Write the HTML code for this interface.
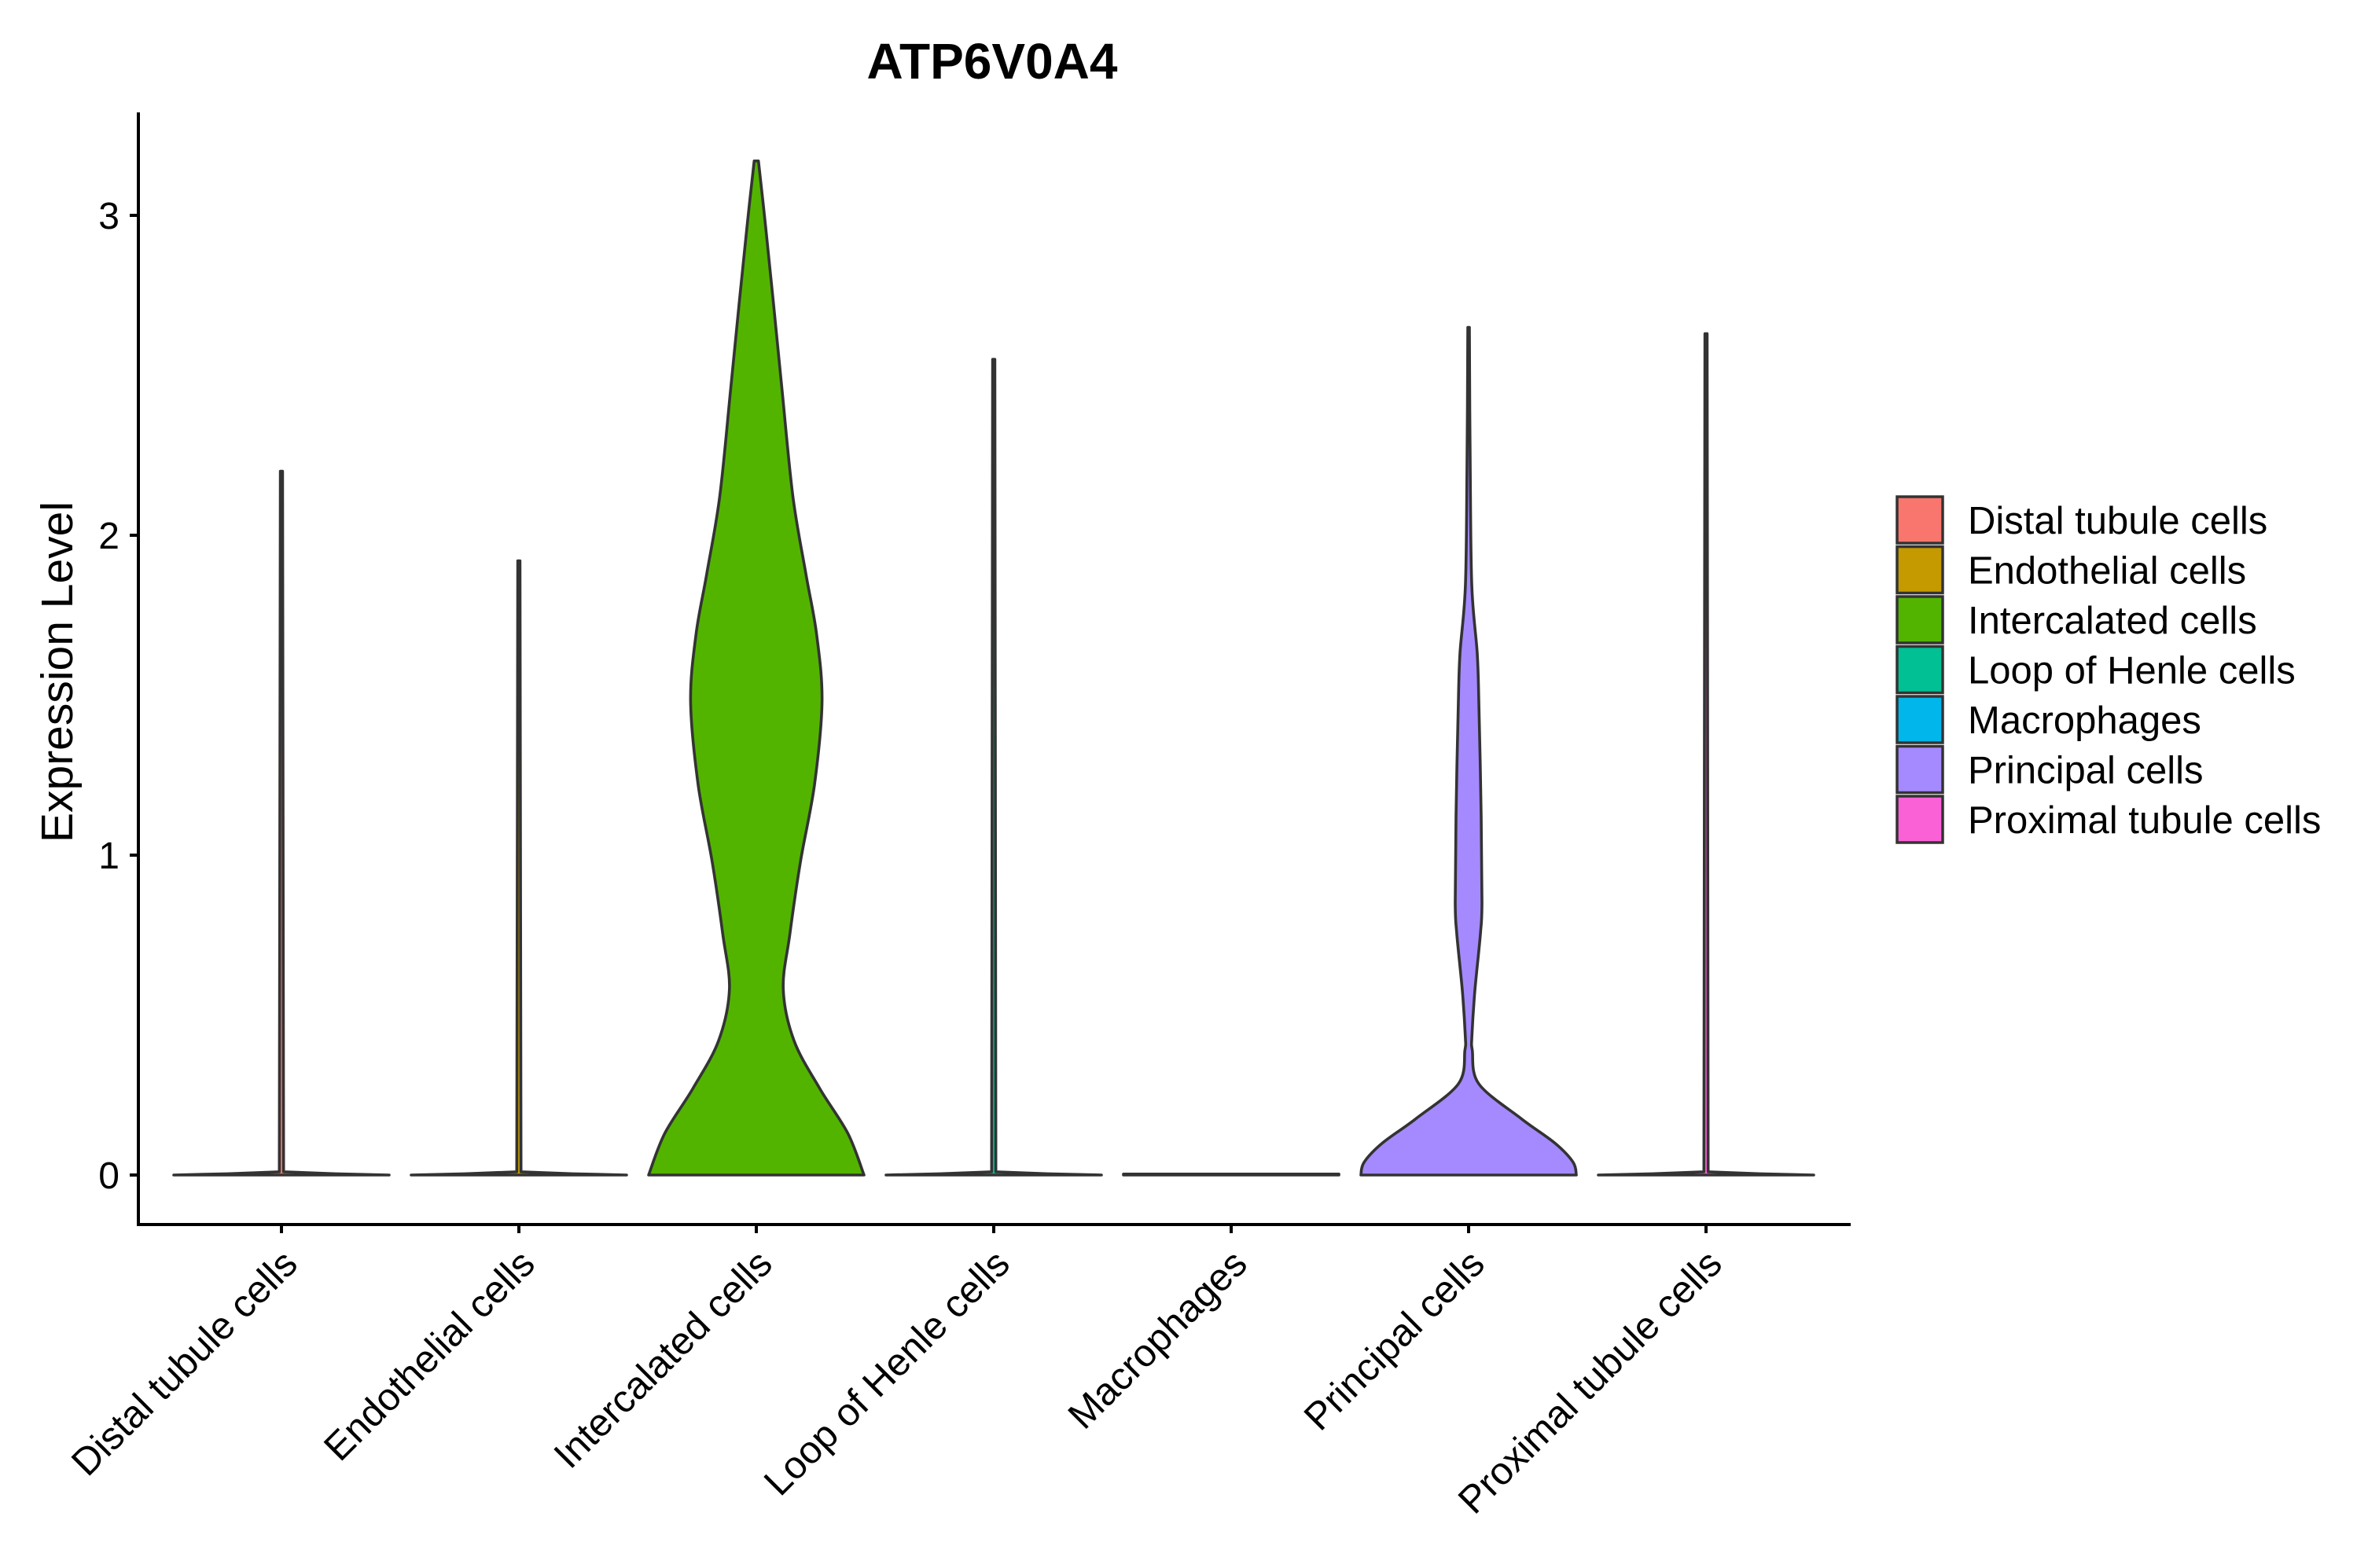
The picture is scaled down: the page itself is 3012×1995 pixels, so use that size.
<!DOCTYPE html>
<html><head><meta charset="utf-8"><style>
html,body{margin:0;padding:0;background:#fff;}
svg{display:block;font-family:"Liberation Sans",sans-serif;}
</style></head><body>
<svg id="chart" width="3012" height="1995" viewBox="0 0 3012 1995">
<text x="1262" y="100" font-size="64" font-weight="bold" text-anchor="middle">ATP6V0A4</text>
<text transform="translate(92,855) rotate(-90)" font-size="57" text-anchor="middle">Expression Level</text>
<g id="plot"></g>
<g id="legend"></g>
</svg>
<script>
const categories=["Distal tubule cells","Endothelial cells","Intercalated cells","Loop of Henle cells","Macrophages","Principal cells","Proximal tubule cells"];
const colors=["#F8766D","#C49A00","#53B400","#00C094","#00B6EB","#A58AFF","#FB61D7"];
const maxValues=[2.20,1.92,3.17,2.55,0,2.65,2.63];
const yTicks=[0,1,2,3];
const intercalatedValues=[0,0.13,0.27,0.42,0.58,0.75,0.98,1.22,1.48,1.69,1.88,2.12,2.45,2.74,2.97,3.17];
const intercalatedWidths=[1,0.85,0.59,0.35,0.25,0.31,0.41,0.54,0.61,0.56,0.46,0.34,0.24,0.155,0.085,0.02];
const principalValues=[0,0.04,0.1,0.176,0.285,0.39,0.43,0.575,0.756,0.85,1.12,1.48,1.63,1.84,2.2,2.65];
const principalWidths=[1,0.97,0.8,0.49,0.095,0.034,0.03,0.058,0.11,0.124,0.117,0.095,0.08,0.03,0.015,0.007];
const thinValues=[0,0.004,0.01];
const thinWidths=[1,0.5,0.02];

const NS="http://www.w3.org/2000/svg";
const X0=176,X1=2354,YT=143,YB=1558;
const xScale=i=>358+i*302;
const yScale=v=>1495-v*407;
const HW=137;
const plot=document.getElementById('plot');
function mk(tag,attrs,parent){const e=document.createElementNS(NS,tag);for(const k in attrs)e.setAttribute(k,attrs[k]);parent.appendChild(e);return e;}

function profile(i){
  if(i===2)return [intercalatedValues,intercalatedWidths];
  if(i===5)return [principalValues,principalWidths];
  if(maxValues[i]<=0)return [[0,0.003],[1,1]];
  return [thinValues.concat([maxValues[i]]),thinWidths.concat([0.01])];
}
function smooth(pts){
  let d="M"+pts[0][0].toFixed(1)+","+pts[0][1].toFixed(1);
  for(let k=0;k<pts.length-1;k++){
    const p0=pts[Math.max(0,k-1)],p1=pts[k],p2=pts[k+1],p3=pts[Math.min(pts.length-1,k+2)];
    const c1=[p1[0]+(p2[0]-p0[0])/6,p1[1]+(p2[1]-p0[1])/6];
    const c2=[p2[0]-(p3[0]-p1[0])/6,p2[1]-(p3[1]-p1[1])/6];
    d+="C"+c1[0].toFixed(1)+","+c1[1].toFixed(1)+" "+c2[0].toFixed(1)+","+c2[1].toFixed(1)+" "+p2[0].toFixed(1)+","+p2[1].toFixed(1);
  }
  return d;
}
categories.forEach((c,i)=>{
  const [vals,ws]=profile(i);
  const cx=xScale(i);
  const left=[],right=[];
  for(let k=0;k<vals.length;k++){left.push([cx-ws[k]*HW,yScale(vals[k])]);}
  for(let k=vals.length-1;k>=0;k--){right.push([cx+ws[k]*HW,yScale(vals[k])]);}
  let d;
  if(i===2||i===5){
    d=smooth(left)+"L"+right[0][0].toFixed(1)+","+right[0][1].toFixed(1)+smooth(right).replace(/^M[^C]*/,"")+"Z";
  } else {
    d="";
    left.concat(right).forEach((p,k)=>{d+=(k?"L":"M")+p[0].toFixed(1)+","+p[1].toFixed(1);});
    d+="Z";
  }
  const p=mk('path',{d:d,fill:colors[i],stroke:"#333333","stroke-width":3.6,"stroke-linejoin":"round"},plot);
  
  
});
const ax=mk('path',{d:`M${X0},${YT}L${X0},${YB}L${X1},${YB}`,fill:"none",stroke:"#000","stroke-width":4},plot);


yTicks.forEach(t=>{
  const y=yScale(t);
  const tk=mk('line',{x1:X0-11,x2:X0,y1:y,y2:y,stroke:"#000","stroke-width":4},plot);
  
  
  const tl=mk('text',{x:X0-24,y:y+17,"font-size":48,"text-anchor":"end"},plot);
  tl.textContent=t;
  
  
});
categories.forEach((c,i)=>{
  const x=xScale(i);
  const tk=mk('line',{x1:x,x2:x,y1:YB,y2:YB+11,stroke:"#000","stroke-width":4},plot);
  
  
  const tl=mk('text',{transform:`translate(${x-2},${YB+28}) rotate(-45)`,"font-size":49,"text-anchor":"end",dy:"0.72em"},plot);
  tl.textContent=c;
  
  
});
const lg=document.getElementById('legend');
categories.forEach((c,i)=>{
  const y=630+i*63.5;
  const r=mk('rect',{x:2413,y:y+2,width:58,height:59,fill:colors[i],stroke:"#333333","stroke-width":3.5},lg);
  
  
  const t=mk('text',{x:2503,y:y+49,"font-size":49},lg);
  t.textContent=c;
  
  
});
</script>
</body></html>
